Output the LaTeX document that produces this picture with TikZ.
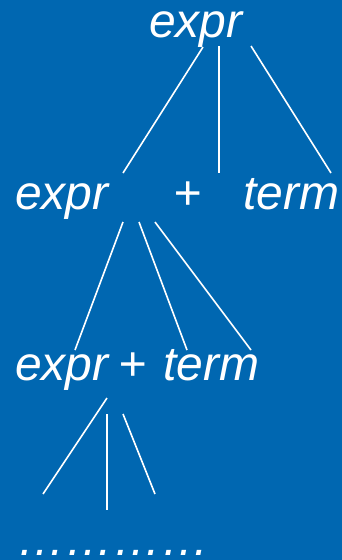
\documentclass[tikz,border=0pt]{standalone}
\usepackage{fontspec}
\setmainfont{Liberation Sans}
\definecolor{bg}{RGB}{0,103,177}
\begin{document}
\begin{tikzpicture}[x=1pt,y=-1pt,
  lbl/.style={text=white,inner sep=0pt,font=\fontsize{48}{52}\selectfont\itshape},
  edge/.style={draw=white,line width=1.6pt}]
\fill[bg] (0,0) rectangle (342,560);
\useasboundingbox (0,0) rectangle (342,560);
% labels
\node[lbl,anchor=base west] (top) at (149,37) {expr};
\node[lbl,anchor=base west] (e2) at (15,209) {expr};
\node[lbl,anchor=base] (p2) at (188,209) {+};
\node[lbl,anchor=base west] (t2) at (243,209) {term};
\node[lbl,anchor=base west] (e3) at (15,380) {expr};
\node[lbl,anchor=base] (p3) at (133,380) {+};
\node[lbl,anchor=base west] (t3) at (163,380) {term};
\node[lbl,anchor=base west] (dots) at (17,555) {…………};
% connector end points
\coordinate (a1) at (203,47);  \coordinate (a1e) at (123,173);
\coordinate (a2) at (219,46);  \coordinate (a2e) at (219,173);
\coordinate (a3) at (251,46);  \coordinate (a3e) at (331,173);
\coordinate (b1) at (123,222); \coordinate (b1e) at (75,350);
\coordinate (b2) at (139,222); \coordinate (b2e) at (187,350);
\coordinate (b3) at (155,222); \coordinate (b3e) at (251,350);
\coordinate (c1) at (107,398); \coordinate (c1e) at (43,494);
\coordinate (c2) at (107,414); \coordinate (c2e) at (107,510);
\coordinate (c3) at (123,414); \coordinate (c3e) at (155,494);
\draw[edge] (a1) -- (a1e);
\draw[edge] (a2) -- (a2e);
\draw[edge] (a3) -- (a3e);
\draw[edge] (b1) -- (b1e);
\draw[edge] (b2) -- (b2e);
\draw[edge] (b3) -- (b3e);
\draw[edge] (c1) -- (c1e);
\draw[edge] (c2) -- (c2e);
\draw[edge] (c3) -- (c3e);
\end{tikzpicture}
\end{document}
